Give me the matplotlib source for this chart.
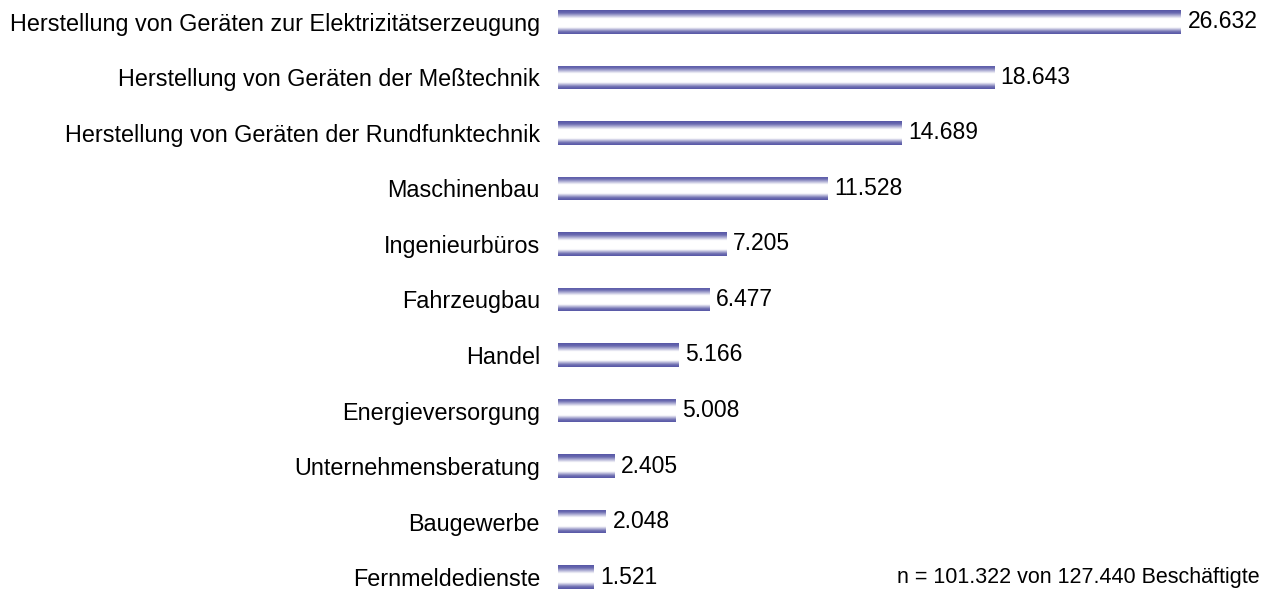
import numpy as np
import matplotlib.pyplot as plt
from matplotlib.colors import LinearSegmentedColormap

plt.rcParams["font.family"] = ["Liberation Sans", "DejaVu Sans"]

# Branchen und Beschäftigte
branchen = [
    "Herstellung von Geräten zur Elektrizitätserzeugung",
    "Herstellung von Geräten der Meßtechnik",
    "Herstellung von Geräten der Rundfunktechnik",
    "Maschinenbau",
    "Ingenieurbüros",
    "Fahrzeugbau",
    "Handel",
    "Energieversorgung",
    "Unternehmensberatung",
    "Baugewerbe",
    "Fernmeldedienste",
]
werte = [26632, 18643, 14689, 11528, 7205, 6477, 5166, 5008, 2405, 2048, 1521]
wert_labels = ["26.632", "18.643", "14.689", "11.528", "7.205", "6.477",
               "5.166", "5.008", "2.405", "2.048", "1.521"]
fussnote = "n = 101.322 von 127.440 Beschäftigte"

# Farbverlauf: dunkelblau oben/unten, weiß leicht unter der Mitte
blau = "#5656a6"
cmap = LinearSegmentedColormap.from_list(
    "balken", [(0.0, blau), (0.12, "#6a6ab0"), (0.35, "#ffffff"),
               (0.72, "#ffffff"), (0.9, "#7070b2"), (1.0, blau)])
gradient = np.linspace(0, 1, 256).reshape(-1, 1)

fig = plt.figure(figsize=(12.74, 5.9), dpi=100)
ax = fig.add_axes([558 / 1274, 0, 716 / 1274, 1])

y = np.arange(len(branchen))
hoehe = 0.42
bars = ax.barh(y, werte, height=hoehe, color="none", edgecolor="none")

for bar in bars:
    x0, y0 = bar.get_x(), bar.get_y()
    w, h = bar.get_width(), bar.get_height()
    im = ax.imshow(gradient, cmap=cmap, aspect="auto",
                   extent=(x0, x0 + w, y0 + h, y0), interpolation="bilinear")
    im.set_clip_path(bar)

for yi, w, txt in zip(y, werte, wert_labels):
    ax.text(w + 280, yi, txt, va="center", ha="left", fontsize=16.5)

ax.set_xlim(0, 26632 * 716 / 623)
ax.set_ylim(10.234, -0.396)
ax.set_yticks(y)
ax.set_yticklabels(branchen, fontsize=16.8)
ax.tick_params(axis="y", length=0, pad=13)
ax.set_xticks([])
for s in ax.spines.values():
    s.set_visible(False)

fig.text(1260 / 1274, 1 - 577 / 590, fussnote, ha="right", va="center", fontsize=15.5)

fig.savefig("out.png", dpi=100)
